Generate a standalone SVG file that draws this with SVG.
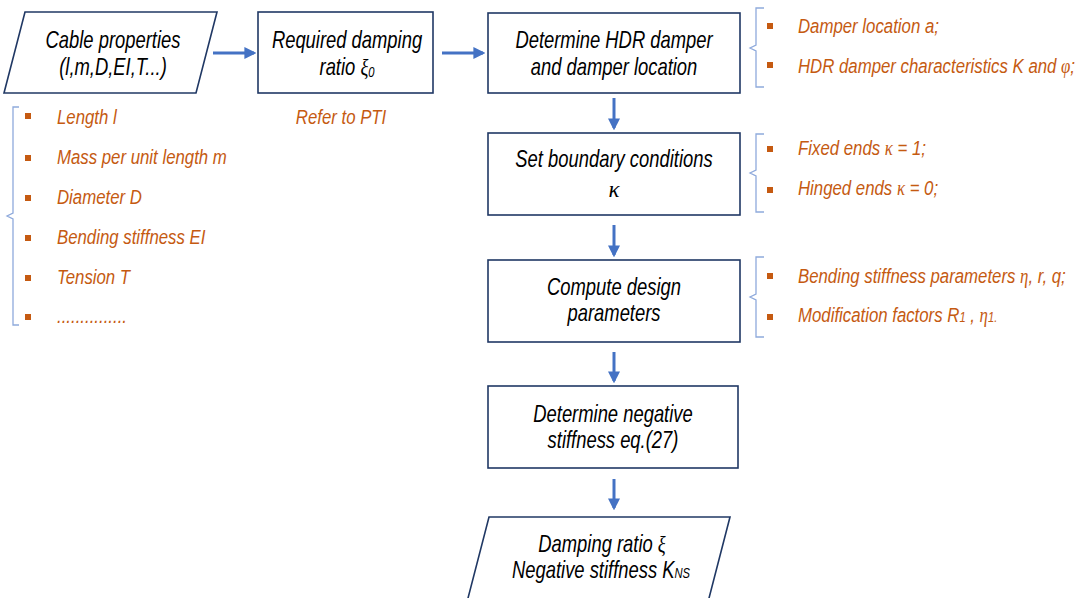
<svg xmlns="http://www.w3.org/2000/svg" width="1079" height="598" viewBox="0 0 1079 598">
<style>
.box{fill:#fff;stroke:#203864;stroke-width:1.6}
.t{font-family:"Liberation Sans",Arial,sans-serif;font-style:italic;font-size:23px;fill:#000;text-anchor:middle}
.o{font-family:"Liberation Sans",Arial,sans-serif;font-style:italic;font-size:21px;fill:#C55A11}
.g{font-family:"Liberation Serif","Times New Roman",serif;font-style:italic}
.b{fill:#C55A11}
.br{fill:none;stroke:#8FAADC;stroke-width:1.3}
.ar{stroke:#4472C4;stroke-width:3;fill:none}
</style>
<defs>
<marker id="ah" markerWidth="4" markerHeight="4" refX="3.2" refY="2" orient="auto" markerUnits="strokeWidth">
<path d="M0,0 L4,2 L0,4 z" fill="#4472C4"/>
</marker>
</defs>
<g id="connectors">
<line class="ar" x1="213" y1="53" x2="254" y2="53" marker-end="url(#ah)"/>
<line class="ar" x1="442" y1="53" x2="483" y2="53" marker-end="url(#ah)"/>
<line class="ar" x1="614" y1="98" x2="614" y2="128" marker-end="url(#ah)"/>
<line class="ar" x1="614" y1="225" x2="614" y2="255" marker-end="url(#ah)"/>
<line class="ar" x1="614" y1="352" x2="614" y2="381" marker-end="url(#ah)"/>
<line class="ar" x1="614" y1="479" x2="614" y2="508" marker-end="url(#ah)"/>
</g>
<g id="cable">
<polygon class="box" points="25,12 217,12 196,93 4,93"/>
<text class="t" transform="translate(113 48) scale(0.8 1)">Cable properties</text>
<text class="t" transform="translate(113 75) scale(0.8 1)">(l,m,D,EI,T...)</text>
</g>
<g id="required">
<rect class="box" x="258" y="12" width="175" height="81"/>
<text class="t" transform="translate(347 48) scale(0.8 1)">Required damping</text>
<text class="t" transform="translate(347 75) scale(0.8 1)">ratio <tspan class="g">ξ</tspan><tspan font-size="14" dy="2">0</tspan></text>
</g>
<g id="hdr">
<rect class="box" x="488" y="13" width="252" height="80"/>
<text class="t" transform="translate(614 48) scale(0.8 1)">Determine HDR damper</text>
<text class="t" transform="translate(614 75) scale(0.8 1)">and damper location</text>
</g>
<g id="boundary">
<rect class="box" x="488" y="133" width="252" height="82"/>
<text class="t" transform="translate(614 167) scale(0.8 1)">Set boundary conditions</text>
<text class="t g" x="614" y="197" font-style="normal" font-size="26">κ</text>
</g>
<g id="compute">
<rect class="box" x="488" y="260" width="252" height="82"/>
<text class="t" transform="translate(614 295) scale(0.8 1)">Compute design</text>
<text class="t" transform="translate(614 321) scale(0.8 1)">parameters</text>
</g>
<g id="negative">
<rect class="box" x="488" y="386" width="250" height="82"/>
<text class="t" transform="translate(613 422) scale(0.8 1)">Determine negative</text>
<text class="t" transform="translate(613 448) scale(0.8 1)">stiffness eq.(27)</text>
</g>
<g id="result">
<polygon class="box" points="489,517 730,517 708,602 467,602"/>
<text class="t" transform="translate(602 552) scale(0.8 1)">Damping ratio <tspan class="g">ξ</tspan></text>
<text class="t" transform="translate(601 578) scale(0.8 1)">Negative stiffness K<tspan font-size="14">NS</tspan></text>
</g>
<g id="cable-list">
<path class="br" d="M19,107 H13 V213 L7,216 L13,219 V325 H19"/>
<rect class="b" x="25" y="113" width="6" height="6"/>
<rect class="b" x="25" y="155" width="6" height="6"/>
<rect class="b" x="25" y="195" width="6" height="6"/>
<rect class="b" x="25" y="235" width="6" height="6"/>
<rect class="b" x="25" y="275" width="6" height="6"/>
<rect class="b" x="25" y="314" width="6" height="6"/>
<text class="o" transform="translate(57 124) scale(0.8 1)">Length l</text>
<text class="o" transform="translate(57 164) scale(0.8 1)">Mass per unit length m</text>
<text class="o" transform="translate(57 204) scale(0.8 1)">Diameter D</text>
<text class="o" transform="translate(57 244) scale(0.8 1)">Bending stiffness EI</text>
<text class="o" transform="translate(57 284) scale(0.8 1)">Tension T</text>
<text class="o" transform="translate(57 323) scale(0.8 1)">...............</text>
</g>
<g id="pti">
<text class="o" text-anchor="middle" transform="translate(341 124) scale(0.8 1)">Refer to PTI</text>
</g>
<g id="hdr-list">
<path class="br" d="M764,8 H756 V45 L750,48 L756,51 V87 H764"/>
<rect class="b" x="767" y="23" width="6" height="6"/>
<rect class="b" x="767" y="62" width="6" height="6"/>
<text class="o" transform="translate(798 33) scale(0.8 1)">Damper location a;</text>
<text class="o" transform="translate(798 73) scale(0.8 1)">HDR damper characteristics K and <tspan class="g">φ</tspan>;</text>
</g>
<g id="boundary-list">
<path class="br" d="M764,134 H756 V170 L750,173 L756,176 V212 H764"/>
<rect class="b" x="767" y="146" width="6" height="6"/>
<rect class="b" x="767" y="187" width="6" height="6"/>
<text class="o" transform="translate(798 155) scale(0.8 1)">Fixed ends <tspan class="g" font-style="normal">κ</tspan> = 1;</text>
<text class="o" transform="translate(798 195) scale(0.8 1)">Hinged ends <tspan class="g" font-style="normal">κ</tspan> = 0;</text>
</g>
<g id="compute-list">
<path class="br" d="M764,257 H756 V294 L750,297 L756,300 V337 H764"/>
<rect class="b" x="767" y="273" width="6" height="6"/>
<rect class="b" x="767" y="314" width="6" height="6"/>
<text class="o" transform="translate(798 283) scale(0.8 1)">Bending stiffness parameters <tspan class="g">η</tspan>, r, q;</text>
<text class="o" transform="translate(798 322) scale(0.8 1)">Modification factors R<tspan font-size="14">1</tspan> , <tspan class="g">η</tspan><tspan font-size="14">1.</tspan></text>
</g>
</svg>
